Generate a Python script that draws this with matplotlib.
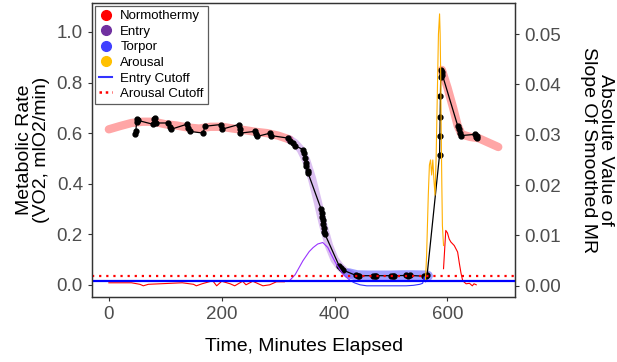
import matplotlib
matplotlib.use("Agg")
import matplotlib.pyplot as plt
from matplotlib.lines import Line2D

plt.rcParams['font.family'] = ['Liberation Sans', 'DejaVu Sans']

# smoothed MR (thick translucent band), one piece per phase
band_norm1_t = [0, 20, 40, 60, 80, 100, 120, 140, 160, 180, 200, 220, 240, 260, 280, 300, 320]
band_norm1_mr = [0.615, 0.628, 0.640, 0.645, 0.645, 0.635, 0.630, 0.622, 0.618, 0.625, 0.625, 0.618,
                 0.612, 0.605, 0.600, 0.590, 0.575]
band_entry_t = [320, 330, 340, 350, 360, 370, 380, 390, 400, 410, 420, 430]
band_entry_mr = [0.575, 0.560, 0.535, 0.490, 0.420, 0.330, 0.235, 0.155, 0.100, 0.070, 0.050, 0.040]
band_torpor_t = [425, 440, 460, 480, 500, 520, 540, 560, 565]
band_torpor_mr = [0.045, 0.037, 0.036, 0.036, 0.036, 0.037, 0.037, 0.036, 0.035]
band_norm2_t = [590, 600, 610, 618, 625, 640, 655, 670, 690]
band_norm2_mr = [0.850, 0.780, 0.700, 0.630, 0.595, 0.585, 0.580, 0.565, 0.545]

# observed MR (black points + line)
obs_t = [47, 48, 49, 50, 52, 78, 80, 82, 84, 105, 108, 110, 138, 140, 143, 167, 170, 199, 200,
         230, 232, 233, 259, 261, 263, 286, 288, 318, 321, 327, 330,
         344, 346, 347, 349, 350, 352, 353, 376, 377, 378, 379, 380, 381, 382, 383, 408, 412, 415,
         438, 441, 444, 468, 471, 474, 500, 503, 506, 527, 530, 533, 559, 562, 564,
         586, 586.5, 587, 587.5, 588, 589, 590, 591,
         618, 620, 622, 624, 648, 650, 652, 653]
obs_mr = [0.595, 0.610, 0.645, 0.655, 0.650, 0.635, 0.655, 0.660, 0.640, 0.640, 0.625, 0.615,
          0.635, 0.620, 0.607, 0.600, 0.627, 0.634, 0.615, 0.634, 0.615, 0.600, 0.607, 0.595, 0.587,
          0.600, 0.590, 0.580, 0.570, 0.560, 0.550,
          0.535, 0.520, 0.502, 0.480, 0.468, 0.450, 0.442, 0.300, 0.285, 0.270, 0.257, 0.240, 0.225,
          0.210, 0.200, 0.075, 0.065, 0.058,
          0.037, 0.036, 0.036, 0.036, 0.035, 0.036, 0.036, 0.035, 0.036, 0.037, 0.036, 0.037,
          0.034, 0.036, 0.040,
          0.515, 0.590, 0.665, 0.745, 0.820, 0.850, 0.840, 0.830,
          0.630, 0.615, 0.600, 0.590, 0.595, 0.585, 0.580, 0.590]

# absolute slope of smoothed MR (right axis), per phase
slope_norm1_t = [0, 20, 40, 55, 61, 70, 90, 110, 130, 150, 155, 165, 184, 191, 200, 215, 223,
                 237, 243, 255, 265, 273, 285, 297, 311]
slope_norm1 = [0.0006, 0.0006, 0.0006, 0.0003, 0.0, 0.0003, 0.0004, 0.0005, 0.0006, 0.0003, 0.0,
               0.0004, 0.0010, 0.0, 0.0009, 0.0004, 0.0, 0.0009, 0.0002, 0.0009, 0.0004, 0.0,
               0.0002, 0.0008, 0.0008]
slope_entry_t = [320, 330, 344, 355, 362, 370, 379, 388, 395, 403, 415, 427]
slope_entry = [0.0010, 0.0022, 0.0050, 0.0068, 0.0076, 0.0083, 0.0086, 0.0076, 0.0060, 0.0043,
               0.0023, 0.0011]
slope_torpor_t = [427, 435, 445, 457, 480, 500, 527, 540, 551, 556, 559, 561]
slope_torpor = [0.0011, 0.0006, 0.0002, 0.0, 0.0, 0.0, 0.0, 0.0001, 0.0003, 0.0005, 0.0018, 0.0008]
slope_arousal_t = [561, 563, 566, 568, 570, 572, 574, 576, 578, 580, 582, 584, 586, 587, 588,
                   589, 590, 591, 593]
slope_arousal = [0.001, 0.006, 0.018, 0.024, 0.025, 0.022, 0.025, 0.021, 0.018, 0.026, 0.038,
                 0.050, 0.054, 0.050, 0.042, 0.030, 0.020, 0.012, 0.008]
slope_norm2_t = [593, 597, 600, 603, 606, 612, 618, 621, 624, 627, 633, 639, 644, 647, 651]
slope_norm2 = [0.0034, 0.011, 0.0105, 0.0093, 0.0087, 0.008, 0.0067, 0.0045, 0.0025, 0.001,
               0.0004, 0.0005, 0.0, 0.0004, 0.0002]

entry_cutoff = 0.001
arousal_cutoff = 0.002

c_norm = '#FF0000'
c_entry = '#7030A0'
c_torpor = '#4040FF'
c_arousal = '#FFC000'

fig = plt.figure(figsize=(6.17, 3.62), dpi=100)
ax = fig.add_axes([0.149, 0.180, 0.686, 0.812])
ax2 = ax.twinx()

ax.plot(band_norm1_t, band_norm1_mr, color=c_norm, lw=6, alpha=0.35, solid_capstyle='round')
ax.plot(band_entry_t, band_entry_mr, color='#9B4FD9', lw=6, alpha=0.35, solid_capstyle='round')
ax.plot(band_torpor_t, band_torpor_mr, color=c_torpor, lw=7.5, alpha=0.5, solid_capstyle='round')
ax.plot(band_norm2_t, band_norm2_mr, color=c_norm, lw=6, alpha=0.35, solid_capstyle='round')

ax.plot(obs_t, obs_mr, color='black', lw=0.9, marker='o', ms=3.5)

ax2.plot(slope_norm1_t, slope_norm1, color=c_norm, lw=0.8)
ax2.plot(slope_entry_t, slope_entry, color='#9933FF', lw=0.8)
ax2.plot(slope_torpor_t, slope_torpor, color='#3333FF', lw=0.8)
ax2.plot(slope_arousal_t, slope_arousal, color='#FFB000', lw=0.8)
ax2.plot(slope_norm2_t, slope_norm2, color=c_norm, lw=0.8)
ax2.axhline(entry_cutoff, color='#0000FF', lw=1.6)
ax2.axhline(arousal_cutoff, color='#FF0000', lw=1.6, ls=(0, (1, 2.2)))

ax.set_xlim(-30, 720)
ax.set_ylim(-0.0476, 1.115)
ax2.set_ylim(-0.00219, 0.05618)
ax.set_xticks([0, 200, 400, 600])
ax.set_yticks([0.0, 0.2, 0.4, 0.6, 0.8, 1.0])
ax.set_yticklabels(['0.0', '0.2', '0.4', '0.6', '0.8', '1.0'])
ax2.set_yticks([0.0, 0.01, 0.02, 0.03, 0.04, 0.05])
ax2.set_yticklabels(['0.00', '0.01', '0.02', '0.03', '0.04', '0.05'])

for a in (ax, ax2):
    a.tick_params(labelsize=13.5, labelcolor='#4D4D4D', color='#333333', length=3, width=0.8)
    for s in a.spines.values():
        s.set_color('#333333')
        s.set_linewidth(0.9)

ax.set_xlabel('Time, Minutes Elapsed', fontsize=14, labelpad=11)
ax.set_ylabel('Metabolic Rate\n(VO2, mlO2/min)', fontsize=14, labelpad=5, linespacing=0.95)
ax2.set_ylabel('Absolute Value of\nSlope Of Smoothed MR', fontsize=14, rotation=270,
               labelpad=38, linespacing=0.95)

handles = [
    Line2D([], [], ls='none', marker='o', ms=7, color=c_norm),
    Line2D([], [], ls='none', marker='o', ms=7, color=c_entry),
    Line2D([], [], ls='none', marker='o', ms=7, color=c_torpor),
    Line2D([], [], ls='none', marker='o', ms=7, color=c_arousal),
    Line2D([], [], color='#3333FF', lw=1.5),
    Line2D([], [], color='#FF0000', lw=1.8, ls=(0, (1, 1.5))),
]
labels = ['Normothermy', 'Entry', 'Torpor', 'Arousal', 'Entry Cutoff', 'Arousal Cutoff']
leg = ax2.legend(handles, labels, loc='upper left', bbox_to_anchor=(0.0, 1.0), fontsize=9.5,
                 frameon=True, fancybox=False, edgecolor='#333333', handlelength=1.0,
                 handletextpad=0.6, labelspacing=0.25, borderpad=0.3, borderaxespad=0.25)
leg.get_frame().set_linewidth(0.9)

fig.savefig('out.png', dpi=100)
